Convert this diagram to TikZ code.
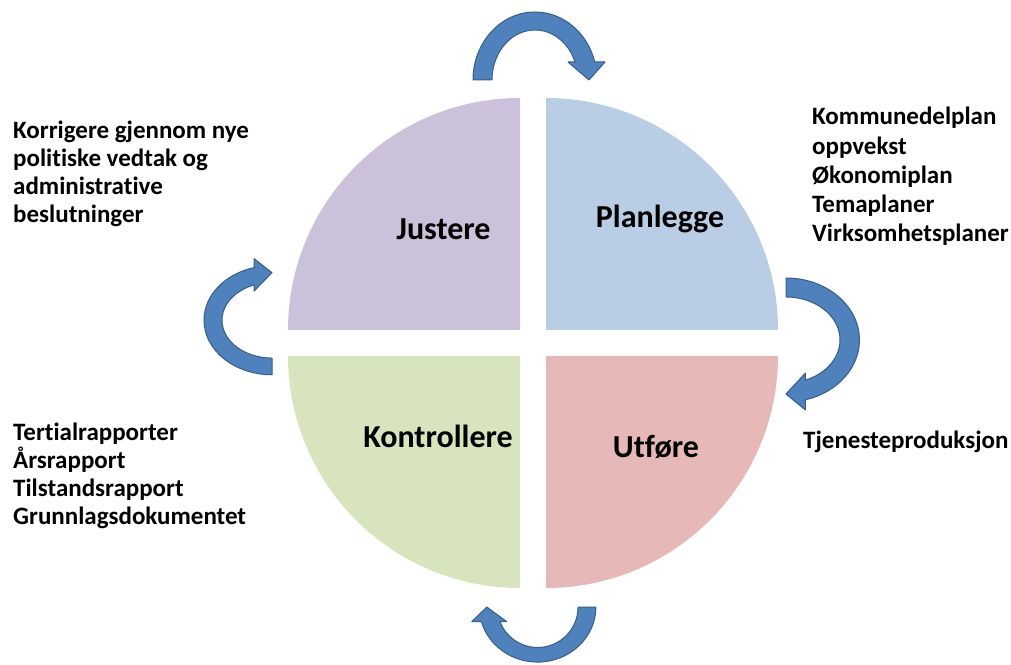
\documentclass[tikz,border=0pt]{standalone}
\usepackage{fontspec}
\setmainfont{Carlito}[Ligatures=NoCommon]
\usepackage{xcolor}
\usepackage{tikz}
\definecolor{justc}{HTML}{CCC1DA}
\definecolor{planc}{HTML}{B9CDE5}
\definecolor{kontc}{HTML}{D7E4BD}
\definecolor{utfc}{HTML}{E6B9B8}
\definecolor{arrowc}{HTML}{4F81BD}
\definecolor{arrowdark}{HTML}{385D8A}
\begin{document}
\begin{tikzpicture}[x=1pt,y=1pt,
	side/.style={anchor=base west, align=left, inner sep=0, font=\fontsize{25}{28}\selectfont\bfseries},
	phase/.style={anchor=base, inner sep=0, font=\fontsize{32}{38}\selectfont\bfseries},
	cyclearrow/.pic={
		\filldraw[fill=arrowc, draw=arrowdark, line width=1pt, line join=round]
			(-62,0) arc[start angle=180, end angle=15.35, x radius=62, y radius=68]
			-- (70,18) -- (54,0) -- (33,18) -- (40.1,18)
			arc[start angle=21.1, end angle=180, x radius=43, y radius=50] -- cycle;
	}]
	\useasboundingbox (0,0) rectangle (1011,664);
	\fill[justc] (520,334) -- (288,334) arc[start angle=180, end angle=90, radius=232] -- cycle;
	\fill[planc] (546,334) -- (546,566) arc[start angle=90, end angle=0, radius=232] -- cycle;
	\fill[kontc] (520,308) -- (288,308) arc[start angle=180, end angle=270, radius=232] -- cycle;
	\fill[utfc] (546,308) -- (778,308) arc[start angle=0, end angle=-90, radius=232] -- cycle;
	\node[phase] (justere) at (443.5,424) {Justere};
	\node[phase] (planlegge) at (660,436) {Planlegge};
	\node[phase] (kontrollere) at (438,216) {Kontrollere};
	\node[phase] (utfore) at (656,206) {Utføre};
	\pic at (535,584) {cyclearrow};
	\pic[rotate=-90, yscale=1.08] at (786,324) {cyclearrow};
	\pic[rotate=180, xscale=0.94, yscale=0.81] at (537.6,57) {cyclearrow};
	\pic[rotate=90, xscale=0.88] at (272,343.8) {cyclearrow};
	\node[side] (korrigere) at (13,441) {Korrigere gjennom nye\\politiske vedtak og\\administrative\\beslutninger};
	\node[side, font=\fontsize{25}{29.2}\selectfont\bfseries] (planer) at (812,422.3) {Kommunedelplan\\oppvekst\\Økonomiplan\\Temaplaner\\Virksomhetsplaner};
	\node[side] (rapporter) at (13,140) {Tertialrapporter\\Årsrapport\\Tilstandsrapport\\Grunnlagsdokumentet};
	\node[side] (tjenester) at (803,215) {Tjenesteproduksjon};
\end{tikzpicture}
\end{document}
